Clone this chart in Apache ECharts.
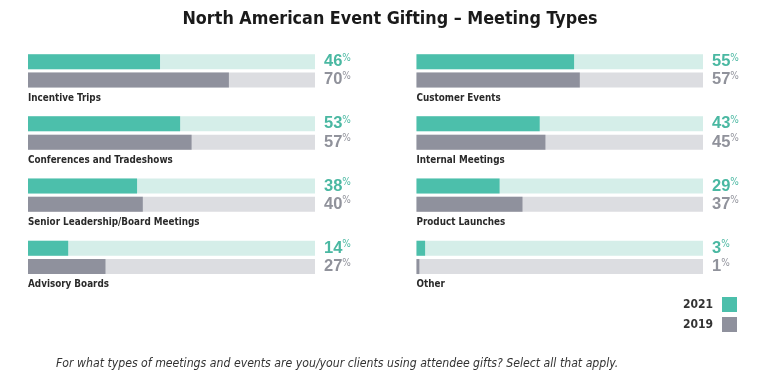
<!DOCTYPE html>
<html>
<head>
<meta charset="utf-8">
<script src="https://cdn.jsdelivr.net/npm/echarts@6/dist/echarts.min.js"></script>
<style>
html,body{margin:0;padding:0;background:#fff;}
#chart{width:780px;height:385px;}
</style>
</head>
<body>
<div id="chart"></div>
<script>
const titleText = 'North American Event Gifting – Meeting Types';
const footnote = 'For what types of meetings and events are you/your clients using attendee gifts? Select all that apply.';
const categories = ['Incentive Trips','Conferences and Tradeshows','Senior Leadership/Board Meetings','Advisory Boards',
                    'Customer Events','Internal Meetings','Product Launches','Other'];
const values2021 = [46, 53, 38, 14, 55, 43, 29, 3];
const values2019 = [70, 57, 40, 27, 57, 45, 37, 1];
const seriesNames = ['2021', '2019'];

const FONT = "'Liberation Sans Narrow','DejaVu Sans Condensed',sans-serif";
const TEAL = '#4cbfab', TEAL_L = '#d5eee9', GRAY = '#8f919d', GRAY_L = '#dcdde1';
const TEAL_T = '#4ab8a2', GRAY_T = '#90929b';

const grids = [], xAxes = [], yAxes = [], series = [], graphics = [];
categories.forEach((cat, i) => {
  const col = i < 4 ? 0 : 1;
  const row = i % 4;
  const left = col === 0 ? 28 : 416.5;
  const width = col === 0 ? 287 : 286.5;
  const top = 52.5 + 62.2 * row;
  grids.push({left: left, width: width, top: top, height: 36.6, containLabel: false});
  xAxes.push({type: 'value', gridIndex: i, min: 0, max: 100, show: false});
  yAxes.push({type: 'category', gridIndex: i, data: seriesNames, inverse: true, show: false});
  series.push({
    type: 'bar', name: 'track' + i, xAxisIndex: i, yAxisIndex: i, barWidth: 15, barGap: '-100%',
    silent: true, animation: false,
    data: [
      {value: 100, itemStyle: {color: TEAL_L}, label: {color: TEAL_T}},
      {value: 100, itemStyle: {color: GRAY_L}, label: {color: GRAY_T}}
    ],
    label: {
      show: true, position: 'right', distance: 9,
      formatter: p => '{n|' + (p.dataIndex === 0 ? values2021[i] : values2019[i]) + '}{p|%}',
      rich: {
        n: {fontFamily: "'Liberation Sans','DejaVu Sans',sans-serif", fontWeight: 'bold', fontSize: 16.5, lineHeight: 17},
        p: {fontFamily: FONT, fontSize: 10, lineHeight: 17, verticalAlign: 'top', padding: [0,0,7,0]}
      }
    }
  });
  series.push({
    type: 'bar', name: seriesNames[0], xAxisIndex: i, yAxisIndex: i, barWidth: 15, barGap: '-100%',
    itemStyle: {color: TEAL}, animation: false,
    data: [values2021[i], '-']
  });
  series.push({
    type: 'bar', name: seriesNames[1], xAxisIndex: i, yAxisIndex: i, barWidth: 15, barGap: '-100%',
    itemStyle: {color: GRAY}, animation: false,
    data: ['-', values2019[i]]
  });
  graphics.push({
    type: 'text', left: left, top: top + 40.5,
    style: {text: cat, font: 'bold 9.8px ' + FONT, fill: '#2a2a2a'}
  });
});

graphics.push({
  type: 'text', left: 56, top: 357.5,
  style: {text: footnote, font: 'italic 12.2px ' + FONT, fill: '#333'}
});

const chart = echarts.init(document.getElementById('chart'), null, {renderer: 'canvas'});
chart.setOption({
  backgroundColor: '#fff',
  animation: false,
  title: {
    text: titleText, left: 'center', top: 5,
    textStyle: {fontFamily: FONT, fontWeight: 'bold', fontSize: 17.8, color: '#1a1a1a'}
  },
  legend: {
    data: seriesNames, orient: 'vertical', right: 43, top: 297, align: 'right', padding: 0,
    itemWidth: 15, itemHeight: 15, itemGap: 5, icon: 'rect', selectedMode: false,
    textStyle: {fontFamily: FONT, fontWeight: 'bold', fontSize: 12, color: '#333', padding: [0, 4, 0, 0]}
  },
  grid: grids, xAxis: xAxes, yAxis: yAxes, series: series, graphic: graphics
});
</script>
</body>
</html>
